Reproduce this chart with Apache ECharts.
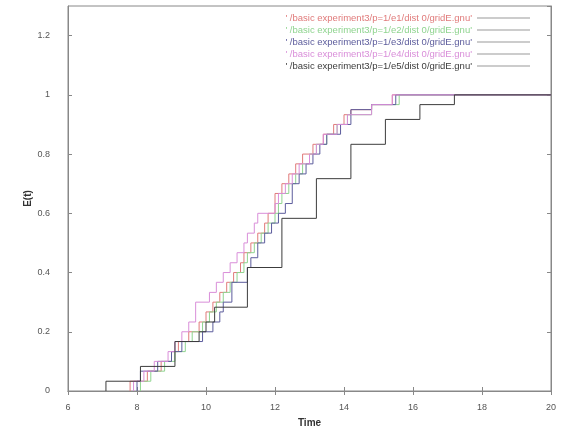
<!DOCTYPE html>
<html><head><meta charset="utf-8">
<script src="https://cdn.jsdelivr.net/npm/echarts@6/dist/echarts.min.js"></script>
<style>html,body{margin:0;padding:0;background:#fff}#c{width:567px;height:433px}</style>
</head><body><div id="c"></div>
<script>
const seriesNames = [
  "' /basic experiment3/p=1/e1/dist 0/gridE.gnu'",
  "' /basic experiment3/p=1/e2/dist 0/gridE.gnu'",
  "' /basic experiment3/p=1/e3/dist 0/gridE.gnu'",
  "' /basic experiment3/p=1/e4/dist 0/gridE.gnu'",
  "' /basic experiment3/p=1/e5/dist 0/gridE.gnu'"
];
const seriesColors = ['#e07a7a', '#8fd48f', '#5c5c9c', '#d98ed9', '#3c3c3c'];
const xTicks = [6, 8, 10, 12, 14, 16, 18, 20];
const yTicks = [0, 0.2, 0.4, 0.6, 0.8, 1, 1.2];

const e1 = [[7.8,0],[7.8,0.033],[8.3,0.067],[8.7,0.1],[9.0,0.133],[9.2,0.167],[9.5,0.2],[9.8,0.233],[10.0,0.267],[10.2,0.3],[10.4,0.333],[10.6,0.367],[10.8,0.4],[11.0,0.433],[11.1,0.467],[11.3,0.5],[11.5,0.533],[11.7,0.567],[11.8,0.6],[12.0,0.667],[12.2,0.7],[12.4,0.733],[12.6,0.767],[12.8,0.8],[13.1,0.833],[13.4,0.867],[13.7,0.9],[14.0,0.933],[14.2,0.95],[14.8,0.967],[15.4,1],[20,1]];
const e2 = [[8.1,0],[8.1,0.033],[8.4,0.067],[8.8,0.1],[9.1,0.133],[9.4,0.167],[9.6,0.2],[9.9,0.233],[10.1,0.267],[10.3,0.3],[10.5,0.333],[10.7,0.367],[10.9,0.4],[11.1,0.433],[11.2,0.467],[11.4,0.5],[11.6,0.533],[11.8,0.567],[12.0,0.6],[12.1,0.633],[12.2,0.667],[12.4,0.7],[12.6,0.733],[12.8,0.767],[13.0,0.8],[13.2,0.833],[13.5,0.867],[13.8,0.9],[14.1,0.933],[14.8,0.967],[15.6,1],[20,1]];
const e3 = [[8.0,0],[8.0,0.033],[8.1,0.067],[8.6,0.1],[9.0,0.133],[9.3,0.167],[9.9,0.2],[10.2,0.233],[10.4,0.267],[10.5,0.3],[10.75,0.367],[11.2,0.417],[11.3,0.45],[11.5,0.5],[11.7,0.533],[11.9,0.567],[12.1,0.6],[12.3,0.633],[12.5,0.7],[12.7,0.733],[12.9,0.767],[13.1,0.8],[13.3,0.833],[13.5,0.867],[13.9,0.9],[14.2,0.95],[14.8,0.967],[15.5,1],[20,1]];
const e4 = [[7.9,0],[7.9,0.033],[8.2,0.067],[8.5,0.1],[8.9,0.133],[9.1,0.167],[9.3,0.2],[9.5,0.233],[9.7,0.3],[10.1,0.333],[10.3,0.367],[10.5,0.4],[10.7,0.433],[10.9,0.467],[11.1,0.5],[11.2,0.533],[11.4,0.567],[11.5,0.6],[12.0,0.633],[12.1,0.667],[12.3,0.7],[12.5,0.733],[12.7,0.767],[13.0,0.8],[13.2,0.833],[13.4,0.867],[13.8,0.9],[14.1,0.933],[14.8,0.967],[15.4,1],[20,1]];
const e5 = [[7.1,0],[7.1,0.033],[8.1,0.083],[9.1,0.167],[9.8,0.2],[10.0,0.233],[10.25,0.283],[11.2,0.417],[12.2,0.583],[13.2,0.717],[14.2,0.833],[15.2,0.917],[16.2,0.967],[17.2,1],[20,1]];
const allData = [e1, e2, e3, e4, e5];

const chart = echarts.init(document.getElementById('c'), null, {renderer: 'canvas'});
const font = 'Liberation Sans, Arial, sans-serif';
const axisCommon = {
  axisLine: {lineStyle: {color: '#888', width: 1}},
  axisTick: {inside: true, length: 4, lineStyle: {color: '#888'}},
  splitLine: {show: false}
};
chart.setOption({
  animation: false,
  grid: {left: 68, right: 16, top: 6, bottom: 41, show: true, borderColor: '#888', borderWidth: 1},
  legend: {
    orient: 'vertical', right: 32, top: 8, align: 'right', itemGap: 2,
    itemWidth: 53, itemHeight: 1, icon: 'rect',
    data: seriesNames.map((n, i) => ({name: n, textStyle: {color: seriesColors[i]}, itemStyle: {color: '#999'}})),
    textStyle: {fontSize: 9.5, fontFamily: font, padding: [0, 0, 0, 0]}
  },
  xAxis: [
    Object.assign({type: 'value', min: xTicks[0], max: xTicks[xTicks.length - 1], interval: 2,
      name: 'Time', nameLocation: 'middle', nameGap: 27, nameMoveOverlap: false,
      nameTextStyle: {fontSize: 10, fontWeight: 'bold', color: '#333', fontFamily: font},
      axisLabel: {fontSize: 9, color: '#555', fontFamily: font, margin: 12}}, axisCommon),
    Object.assign({type: 'value', position: 'top', min: 6, max: 20, interval: 2, axisLabel: {show: false}}, axisCommon)
  ],
  yAxis: [
    Object.assign({type: 'value', min: yTicks[0], max: 1.3, interval: 0.2,
      name: 'E(t)', nameLocation: 'middle', nameGap: 35, nameRotate: 90, nameMoveOverlap: false,
      nameTextStyle: {fontSize: 10, fontWeight: 'bold', color: '#333', fontFamily: font},
      axisLabel: {fontSize: 9, color: '#555', fontFamily: font, margin: 18, showMaxLabel: false,
        formatter: v => String(Math.round(v * 10) / 10)}}, axisCommon),
    Object.assign({type: 'value', position: 'right', min: 0, max: 1.3, interval: 0.2, axisLabel: {show: false}}, axisCommon)
  ],
  series: allData.map((d, i) => ({
    name: seriesNames[i], type: 'line', step: 'end', data: d, showSymbol: false, symbol: 'none',
    xAxisIndex: 0, yAxisIndex: 0,
    lineStyle: {color: seriesColors[i], width: 1}, itemStyle: {color: seriesColors[i]}
  }))
});
</script></body></html>
